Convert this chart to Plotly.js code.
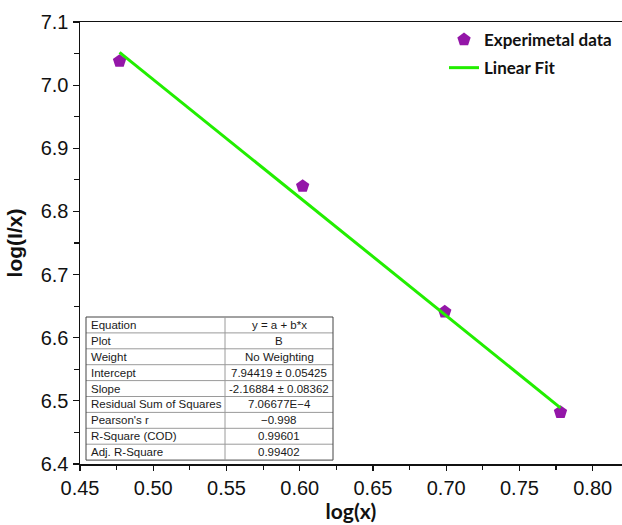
<!DOCTYPE html>
<html>
<head>
<meta charset="utf-8">
<script src="https://cdn.plot.ly/plotly-3.0.1.min.js"></script>
<style>
  html, body { margin: 0; padding: 0; background: #fff; }
  #chart { width: 622px; height: 525px; }
</style>
</head>
<body>
<div id="chart"></div>
<script>
// Measured points: log(x) against log(I/x)
const logX = [0.477, 0.602, 0.699, 0.778];
const logIx = [7.038, 6.840, 6.641, 6.482];

// Straight-line fit drawn between the first and last x values
const fitX = [0.477, 0.778];
const fitY = [7.052, 6.489];

// Fit summary table
const tableLabels = ["Equation", "Plot", "Weight", "Intercept", "Slope",
  "Residual Sum of Squares", "Pearson's r", "R-Square (COD)", "Adj. R-Square"];
const tableValues = ["y = a + b*x", "B", "No Weighting", "7.94419 ± 0.05425",
  "-2.16884 ± 0.08362", "7.06677E\u22124", "\u22120.998", "0.99601", "0.99402"];

const W = 622, H = 525;
const margin = { l: 80, r: 0, t: 22, b: 61 };
const plotW = W - margin.l - margin.r;
const plotH = H - margin.t - margin.b;
// pixel -> paper helpers for the inset table and legend
const px = v => (v - margin.l) / plotW;
const py = v => (H - margin.b - v) / plotH;

const tickFont = { family: "Liberation Sans, Arial, sans-serif", size: 20, color: "#111" };
const cellFont = { family: "Liberation Sans, Arial, sans-serif", size: 11.5, color: "#1a1a1a" };

const points = {
  type: "scatter", mode: "markers", x: logX, y: logIx,
  name: "Experimetal data", legendgroup: "a",
  marker: { symbol: "pentagon", size: 14, color: "#9416a8" }
};
const fitLine = {
  type: "scatter", mode: "lines", x: fitX, y: fitY,
  name: "Linear Fit", legendgroup: "b",
  line: { color: "#22ee00", width: 3 }
};

// Inset table geometry (pixels)
const tblL = 86, tblR = 333, tblSplit = 225, tblTop = 317, rowH = 15.9;
const nRows = tableLabels.length;
const shapes = [];
const annotations = [];
for (let i = 0; i <= nRows; i++) {
  const yy = tblTop + i * rowH;
  shapes.push({
    type: "line", xref: "paper", yref: "paper",
    x0: px(tblL), x1: px(tblR), y0: py(yy), y1: py(yy),
    line: { color: (i === 0 || i === nRows) ? "#444" : "#9a9a9a", width: 1 }, layer: "above"
  });
}
[tblL, tblSplit, tblR].forEach((xx, j) => {
  shapes.push({
    type: "line", xref: "paper", yref: "paper",
    x0: px(xx), x1: px(xx), y0: py(tblTop), y1: py(tblTop + nRows * rowH),
    line: { color: j === 1 ? "#9a9a9a" : "#444", width: 1 }, layer: "above"
  });
});
shapes.unshift({
  type: "rect", xref: "paper", yref: "paper",
  x0: px(tblL), x1: px(tblR), y0: py(tblTop + nRows * rowH), y1: py(tblTop),
  line: { width: 0 }, fillcolor: "#fff", layer: "above"
});
tableLabels.forEach((lab, i) => {
  const yc = py(tblTop + (i + 0.5) * rowH);
  annotations.push({
    xref: "paper", yref: "paper", x: px(tblL + 3), y: yc,
    xanchor: "left", yanchor: "middle", showarrow: false, text: lab, font: cellFont
  });
  annotations.push({
    xref: "paper", yref: "paper", x: px((tblSplit + tblR) / 2), y: yc,
    xanchor: "center", yanchor: "middle", showarrow: false, text: tableValues[i], font: cellFont
  });
});

const layout = {
  width: W, height: H, margin: margin,
  paper_bgcolor: "#fff", plot_bgcolor: "#fff",
  showlegend: true,
  legend: {
    x: px(444), y: 1.0, xanchor: "left", yanchor: "top",
    bgcolor: "rgba(0,0,0,0)", tracegroupgap: 3,
    font: { family: "Lato, Carlito, sans-serif", size: 17, color: "#111", weight: "bold" }
  },
  xaxis: {
    range: [0.45, 0.82], dtick: 0.05, tick0: 0.45, tickformat: ".2f",
    showgrid: false, zeroline: false,
    showline: true, linecolor: "#111", linewidth: 1.5, mirror: true,
    ticks: "outside", ticklen: 5, tickwidth: 1.2, tickcolor: "#111",
    minor: { dtick: 0.025, ticks: "outside", ticklen: 4, tickcolor: "#111", showgrid: false },
    tickfont: tickFont, ticklabelstandoff: 0,
    title: { text: "log(x)", standoff: 2,
      font: { family: "Lato, Carlito, sans-serif", size: 21, color: "#111", weight: "bold" } }
  },
  yaxis: {
    range: [6.4, 7.1], dtick: 0.1, tick0: 6.4, tickformat: ".1f",
    showgrid: false, zeroline: false,
    showline: true, linecolor: "#111", linewidth: 1.5,
    ticks: "outside", ticklen: 6, tickwidth: 1.2, tickcolor: "#111",
    minor: { dtick: 0.05, ticks: "outside", ticklen: 5, tickcolor: "#111", showgrid: false },
    tickfont: tickFont,
    title: { text: "log(I/x)", standoff: 12,
      font: { family: "Liberation Sans, Arial, sans-serif", size: 21, color: "#111", weight: "bold" } }
  },
  shapes: shapes,
  annotations: annotations
};

Plotly.newPlot("chart", [points, fitLine], layout, { displayModeBar: false, staticPlot: true });
</script>
</body>
</html>
